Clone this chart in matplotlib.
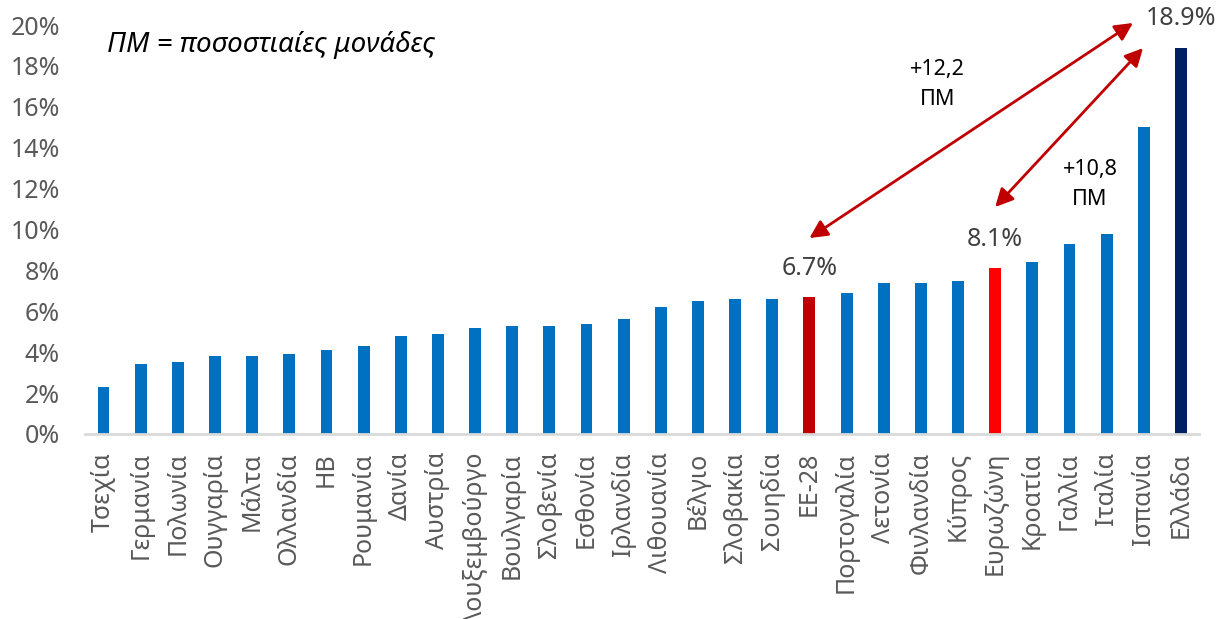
import numpy as np
import matplotlib
matplotlib.use('Agg')
from matplotlib import pyplot as plt

#------------------------------------------------------------
# Data: unemployment rate by country (%)
countries = ['Τσεχία', 'Γερμανία', 'Πολωνία', 'Ουγγαρία', 'Μάλτα', 'Ολλανδία',
             'ΗΒ', 'Ρουμανία', 'Δανία', 'Αυστρία', 'Λουξεμβούργο', 'Βουλγαρία',
             'Σλοβενία', 'Εσθονία', 'Ιρλανδία', 'Λιθουανία', 'Βέλγιο',
             'Σλοβακία', 'Σουηδία', 'ΕΕ-28', 'Πορτογαλία', 'Λετονία',
             'Φινλανδία', 'Κύπρος', 'Ευρωζώνη', 'Κροατία', 'Γαλλία', 'Ιταλία',
             'Ισπανία', 'Ελλάδα']
values = [2.3, 3.4, 3.5, 3.8, 3.8, 3.9, 4.1, 4.3, 4.8, 4.9, 5.2, 5.3, 5.3,
          5.4, 5.6, 6.2, 6.5, 6.6, 6.6, 6.7, 6.9, 7.4, 7.4, 7.5, 8.1, 8.4,
          9.3, 9.8, 15.0, 18.9]
highlight = {'ΕΕ-28': '#C00000', 'Ευρωζώνη': '#FF0000', 'Ελλάδα': '#002060'}
gaps = ['+12,2\nΠΜ', '+10,8\nΠΜ']

plt.rcParams['font.family'] = ['Noto Sans', 'DejaVu Sans']

x = np.arange(len(countries))
colors = [highlight.get(c, '#0070C0') for c in countries]
i_eu = countries.index('ΕΕ-28')
i_ez = countries.index('Ευρωζώνη')
i_gr = countries.index('Ελλάδα')

#------------------------------------------------------------
fig = plt.figure(figsize=(12.19, 6.19), dpi=100)
ax = fig.add_axes([0.0697, 0.2989, 0.9143, 0.6607])

ax.bar(x, values, width=0.32, color=colors, zorder=2)

ax.set_xlim(-0.5, len(countries) - 0.5)
ax.set_ylim(0, 20)
ax.set_yticks(np.arange(0, 21, 2))
ax.set_yticklabels(['%d%%' % v for v in np.arange(0, 21, 2)])
ax.set_xticks(x)
ax.set_xticklabels(countries, rotation=90)
ax.tick_params(axis='y', length=0, pad=18, labelsize=18, labelcolor='#595959')
ax.tick_params(axis='x', length=0, pad=13, labelsize=18, labelcolor='#595959')

for s in ['left', 'right', 'top']:
    ax.spines[s].set_visible(False)
ax.spines['bottom'].set_color('#D9D9D9')
ax.spines['bottom'].set_linewidth(2)

# value labels for the highlighted bars
for i in [i_eu, i_ez, i_gr]:
    ax.text(x[i], values[i] + 1.4, '%.1f%%' % values[i], ha='center',
            va='center', fontsize=18, color='#404040', clip_on=False)

# double-headed arrows
arrow = dict(arrowstyle='<|-|>', color='#C00000', lw=2,
             mutation_scale=27, shrinkA=0, shrinkB=0)
ax.annotate('', xy=(x[i_gr] - 1.29, values[i_gr] + 1.2),
            xytext=(x[i_eu], values[i_eu] + 2.88),
            arrowprops=arrow, annotation_clip=False)
ax.annotate('', xy=(x[i_gr] - 1.02, values[i_gr] - 0.03),
            xytext=(x[i_ez], values[i_ez] + 3.0),
            arrowprops=arrow, annotation_clip=False)

ax.text(22.44, 17.1, gaps[0], ha='center', va='center', fontsize=15.5,
        linespacing=1.6)
ax.text(26.55, 12.2, gaps[1], ha='center', va='center', fontsize=15.5,
        linespacing=1.6)

ax.text(0.02, 19.0, 'ΠΜ = ποσοστιαίες μονάδες', transform=ax.get_yaxis_transform(),
        ha='left', va='center', fontsize=20, style='italic')

fig.savefig('out.png', dpi=100)
